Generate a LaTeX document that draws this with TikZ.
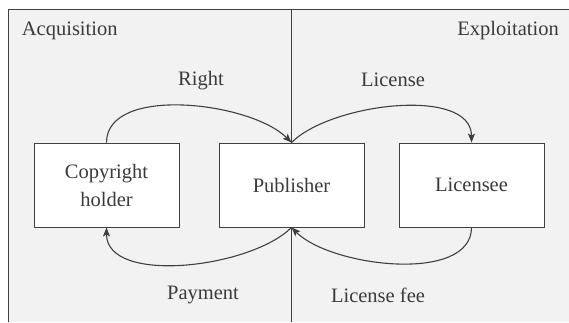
\documentclass[tikz,border=0pt]{standalone}
\usepackage{fontspec}
\setmainfont{Liberation Serif}
\usetikzlibrary{arrows.meta}
\definecolor{panel}{HTML}{F2F2F2}
\definecolor{ink}{HTML}{3A3A3A}
\definecolor{edge}{HTML}{404040}
\tikzset{
  box/.style={draw=edge, line width=0.9pt, fill=white, minimum width=145pt,
    minimum height=84pt, inner sep=0pt, align=center, text=ink,
    font=\fontsize{20.5}{28}\selectfont},
  lbl/.style={text=ink, inner sep=0pt, font=\fontsize{20.5}{24}\selectfont},
  flow/.style={draw=edge, line width=1.1pt,
    -{Stealth[length=9pt,width=7pt,inset=2pt]}, looseness=0.8}
}
\begin{document}
\begin{tikzpicture}[x=1pt,y=1pt]
  \useasboundingbox (0,0) rectangle (569,322);
  % panel background and frame
  \fill[panel] (8,0) rectangle (569,313);
  \draw[edge, line width=0.9pt] (8,0) -- (8,313) -- (569,313);
  % divider between the two phases
  \draw[edge, line width=0.9pt] (291,0) -- (291,313);

  % phase titles
  \node[lbl, anchor=base west] (acq) at (21.7,286.3) {Acquisition};
  \node[lbl, anchor=base east] (exp) at (559,286.3) {Exploitation};

  % actors
  \node[box] (cp)  at (106.5,137) {Copyright\\holder};
  \node[box] (pub) at (291.5,137) {Publisher};
  \node[box] (lic) at (471.5,137) {Licensee};

  % flows between actors
  \draw[flow] (cp.north) to[out=90, in=135] (pub.north);
  \draw[flow] (pub.north) to[out=45, in=90] (lic.north);
  \draw[flow] (pub.south) to[out=-135, in=-90] (cp.south);
  \draw[flow] (lic.south) to[out=-90, in=-45] (pub.south);

  % flow labels
  \node[lbl] (right)  at (201,241.4) {Right};
  \node[lbl] (lcs)    at (393,242)   {License};
  \node[lbl] (pay)    at (203,27)    {Payment};
  \node[lbl] (fee)    at (378,27)    {License fee};
\end{tikzpicture}
\end{document}
